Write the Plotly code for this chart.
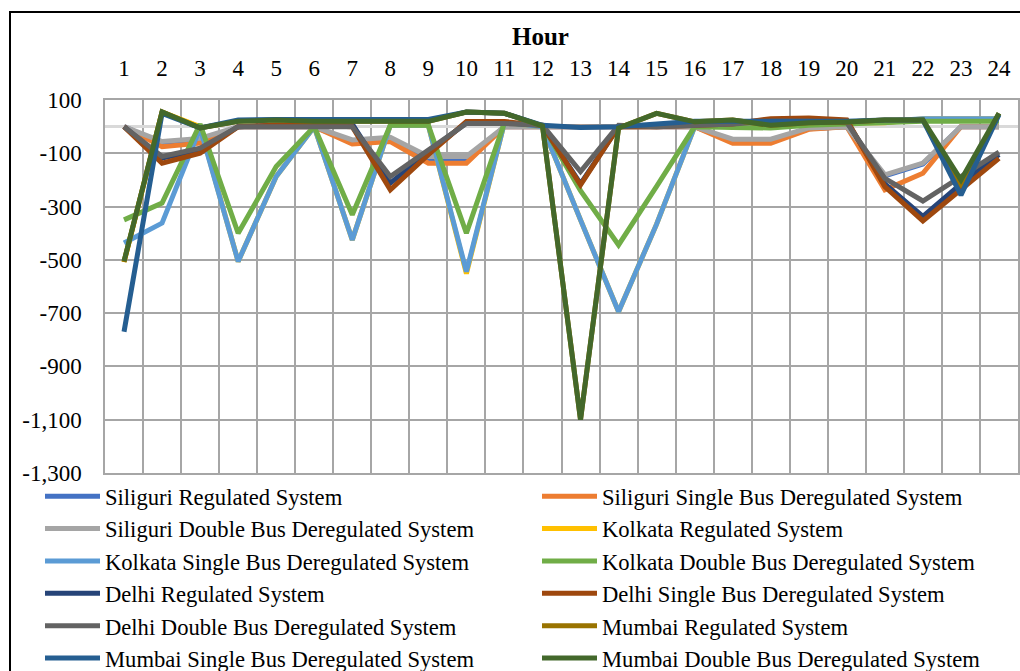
import plotly.graph_objects as go

hours = list(range(1, 25))
hour_labels = [str(h) for h in hours]

y_tickvals = [100, -100, -300, -500, -700, -900, -1100, -1300]
y_ticktext = ["100", "-100", "-300", "-500", "-700", "-900", "-1,100", "-1,300"]

series_names = [
    "Siliguri Regulated System",
    "Siliguri Single Bus Deregulated System",
    "Siliguri Double Bus Deregulated System",
    "Kolkata Regulated System",
    "Kolkata Single Bus Deregulated System",
    "Kolkata Double Bus Deregulated System",
    "Delhi Regulated System",
    "Delhi Single Bus Deregulated System",
    "Delhi Double Bus Deregulated System",
    "Mumbai Regulated System",
    "Mumbai Single Bus Deregulated System",
    "Mumbai Double Bus Deregulated System",
]

siliguri_reg = [0, -65, -55, 0, 0, 0, -58, -50, -125, -125, 0, 0, 0, 0, 0, 0, -55, -55, -8, 0, -185, -140, 0, 0]
siliguri_single = [0, -75, -62, 0, 0, 0, -65, -56, -137, -137, 0, 0, 0, 0, 0, 0, -62, -62, -10, 0, -237, -175, 0, 0]
siliguri_double = [0, -56, -44, 0, 0, 0, -50, -40, -112, -112, 0, 0, 0, 0, 0, 0, -47, -47, -5, 0, -181, -137, 0, 0]
kolkata_reg = [-508, 55, 0, -506, -187, 0, -425, 5, 5, -552, 15, 0, -350, -695, -366, 0, 15, 15, 15, 15, 15, 30, 30, 30]
kolkata_single = [-437, -362, -5, -506, -187, 0, -425, 5, 5, -544, 15, 0, -350, -695, -366, 0, 15, 15, 15, 15, 20, 30, 30, 30]
kolkata_double = [-350, -287, 10, -400, -150, 0, -331, 5, 5, -400, 15, 5, -240, -444, -224, 0, -3, -5, 5, 10, 18, 20, 20, 20]
delhi_reg = [0, -118, -88, 0, 5, 10, 10, -212, -95, 15, 15, 5, -215, 0, 5, 10, 15, 25, 25, 20, -215, -337, -215, -105]
delhi_single = [0, -137, -100, 0, 5, 5, 0, -237, -105, 19, 19, 5, -219, 0, 0, 5, 10, 30, 32, 25, -225, -354, -235, -119]
delhi_double = [0, -112, -81, 0, 0, 0, 0, -187, -87, 12, 12, 5, -169, 5, 0, 5, 10, 20, 20, 15, -194, -279, -190, -96]
mumbai_reg = [-508, 55, -5, 20, 25, 20, 20, 20, 20, 55, 50, 3, -1100, -5, 50, 18, 25, 5, 15, 17, 25, 25, -225, 50]
mumbai_single = [-770, 50, -5, 25, 27, 27, 27, 27, 27, 55, 50, 5, -3, 0, 10, 20, 20, 20, 20, 20, 25, 25, -257, 45]
mumbai_double = [-505, 55, -5, 20, 25, 20, 20, 20, 20, 55, 50, 3, -1100, -5, 50, 18, 25, 5, 15, 17, 25, 25, -200, 50]

all_series = [siliguri_reg, siliguri_single, siliguri_double, kolkata_reg, kolkata_single,
              kolkata_double, delhi_reg, delhi_single, delhi_double, mumbai_reg,
              mumbai_single, mumbai_double]

colors = ["#4472C4", "#ED7D31", "#A5A5A5", "#FFC000", "#5B9BD5", "#70AD47",
          "#264478", "#9E480E", "#636363", "#997300", "#255E91", "#43682B"]

FONT = "Liberation Serif"
FS = 23
LFS = 22.6

fig = go.Figure()
for i, (name, vals, col) in enumerate(zip(series_names, all_series, colors)):
    fig.add_trace(go.Scatter(
        x=hours, y=vals, name=name, mode="lines",
        line=dict(color=col, width=5),
        legend="legend" if i % 2 == 0 else "legend2",
        legendgroup="g%d" % i,
    ))

W, H = 1020, 671
L, R, T, B = 105, 1018, 100, 473
pw, ph = R - L, B - T

def px(xp):
    return (xp - L) / pw

def py(yp):
    return (B - yp) / ph

legend_common = dict(
    font=dict(family=FONT, size=LFS, color="black"),
    bgcolor="rgba(0,0,0,0)",
    itemwidth=55,
    tracegroupgap=0,
    yanchor="top",
    xanchor="left",
    orientation="v",
)

fig.update_layout(
    width=W, height=H,
    margin=dict(l=L, r=W - R, t=T, b=H - B, autoexpand=False),
    paper_bgcolor="white",
    plot_bgcolor="white",
    font=dict(family=FONT, size=FS, color="black"),
    showlegend=True,
    legend=dict(x=px(40), y=py(475), **legend_common),
    legend2=dict(x=px(537), y=py(475), **legend_common),
    xaxis=dict(
        range=[0.5, 24.5],
        side="top",
        tickmode="array",
        tickvals=hours,
        ticktext=hour_labels,
        showgrid=False,
        zeroline=False,
        showline=True, mirror=True, linecolor="#A6A6A6", linewidth=1.5,
        ticks="",
        ticklabelstandoff=13,
        tickfont=dict(family=FONT, size=FS, color="black"),
        minor=dict(tick0=0.5, dtick=1, showgrid=True, gridcolor="#A6A6A6", gridwidth=1.5),
    ),
    yaxis=dict(
        range=[-1300, 100],
        tickmode="array",
        tickvals=y_tickvals,
        ticktext=y_ticktext,
        showgrid=True, gridcolor="#A6A6A6", gridwidth=1.5,
        zeroline=True, zerolinecolor="#D9D9D9", zerolinewidth=3,
        showline=True, mirror=True, linecolor="#A6A6A6", linewidth=1.5,
        ticks="",
        ticklabelstandoff=17,
        tickfont=dict(family=FONT, size=FS, color="black"),
    ),
    annotations=[dict(
        text="<b>Hour</b>", x=px(540), y=py(36), xref="paper", yref="paper",
        xanchor="center", yanchor="middle", showarrow=False,
        font=dict(family=FONT, size=25, color="black"),
    )],
    shapes=[dict(
        type="rect", xref="paper", yref="paper",
        x0=px(10), x1=px(1030), y0=py(700), y1=py(12),
        line=dict(color="black", width=2), fillcolor="rgba(0,0,0,0)", layer="above",
    )],
)

fig.write_html("out.html")
